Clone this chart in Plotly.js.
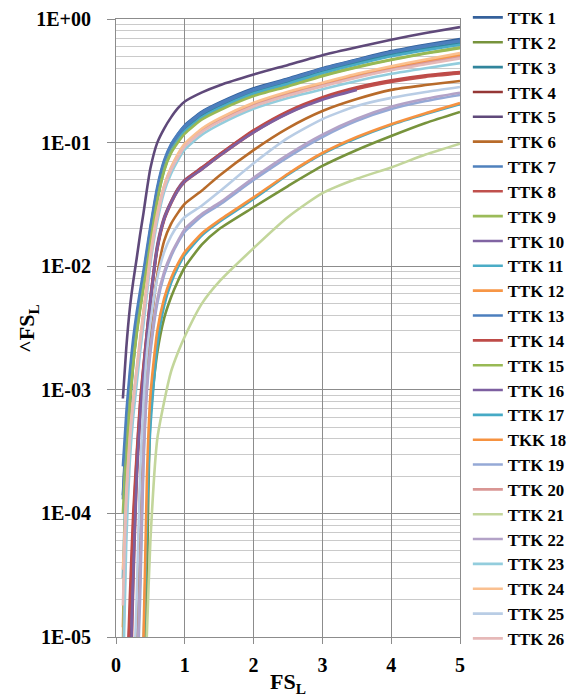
<!DOCTYPE html>
<html>
<head>
<meta charset="utf-8">
<script src="https://cdn.plot.ly/plotly-3.0.1.min.js"></script>
<style>
html,body{margin:0;padding:0;background:#fff;}
#chart{width:587px;height:697px;}
</style>
</head>
<body>
<div id="chart"></div>
<script>
// x values (FS_L)
const xVals = [0.1,0.15,0.2,0.25,0.3,0.35,0.4,0.45,0.5,0.6,0.7,0.8,0.9,1,1.25,1.5,2,2.5,3,3.5,4,4.5,5];

const seriesNames = ["TTK 1","TTK 2","TTK 3","TTK 4","TTK 5","TTK 6","TTK 7","TTK 8","TTK 9","TTK 10",
  "TTK 11","TTK 12","TTK 13","TTK 14","TTK 15","TTK 16","TTK 17","TKK 18","TTK 19","TTK 20",
  "TTK 21","TTK 22","TTK 23","TTK 24","TTK 25","TTK 26"];

const seriesColors = ["#35619B","#77933C","#31859C","#953735","#5F497A","#B86B2A","#4F81BD","#C0504D","#9BBB59","#8064A2",
  "#4BACC6","#F79646","#4C7FBE","#BE4B48","#98B954","#7D5FA0","#46AAC5","#F69240","#95A9D6","#D99694",
  "#C3D69B","#B3A2C7","#93CDDD","#FAC090","#B9CDE5","#E6B9B8"];

// ^FS_L values, one array per series (null = no point)
const ttk1  = [1.4e-4,5e-4,1.2e-3,2.3e-3,3.8e-3,5.8e-3,8.5e-3,1.3e-2,2.0e-2,4.2e-2,7.0e-2,9.5e-2,0.117,0.138,0.178,0.21,0.275,0.33,0.40,0.47,0.55,0.62,0.69];
const ttk2  = [null,null,null,null,null,null,2e-6,3e-5,6e-4,2e-3,3.8e-3,5.6e-3,7.6e-3,9.8e-3,1.5e-2,2.0e-2,3.0e-2,4.45e-2,6.47e-2,8.71e-2,0.113,0.144,0.177];
const ttk3  = [6e-6,2e-4,7e-4,1.6e-3,2.9e-3,4.6e-3,7e-3,1.1e-2,1.7e-2,3.7e-2,6.4e-2,8.8e-2,0.108,0.128,0.166,0.197,0.258,0.31,0.375,0.445,0.515,0.58,0.64];
const ttk4  = [null,null,4e-6,4e-5,2.2e-4,6.5e-4,1.4e-3,2.8e-3,5.2e-3,1.4e-2,2.4e-2,3.3e-2,4.2e-2,4.9e-2,6.2e-2,7.9e-2,0.124,0.177,0.23,0.277,0.315,0.346,0.368];
const ttk5  = [8.5e-4,2.2e-3,4.5e-3,7.5e-3,1.15e-2,1.8e-2,2.7e-2,4.2e-2,6.2e-2,0.1,0.13,0.16,0.19,0.215,0.255,0.29,0.355,0.425,0.51,0.59,0.68,0.77,0.86];
const ttk6  = [null,null,null,3e-6,1.2e-5,1.5e-4,6e-4,1.5e-3,3e-3,8.5e-3,1.6e-2,2.2e-2,2.7e-2,3.2e-2,4.1e-2,5.4e-2,8.7e-2,0.131,0.18,0.225,0.267,0.292,0.315];
const ttk7  = [1.3e-4,4.5e-4,1.1e-3,2.2e-3,3.6e-3,5.6e-3,8.3e-3,1.25e-2,1.9e-2,4.0e-2,6.8e-2,9.2e-2,0.113,0.133,0.172,0.203,0.265,0.32,0.39,0.46,0.535,0.6,0.66];
const ttk8  = [null,null,2e-6,2.5e-5,1.8e-4,5.8e-4,1.3e-3,2.6e-3,5e-3,1.35e-2,2.35e-2,3.2e-2,4.1e-2,4.8e-2,6.1e-2,7.75e-2,0.121,0.173,0.226,0.272,0.31,0.34,0.362];
const ttk9  = [1e-4,3.8e-4,9.5e-4,1.9e-3,3.2e-3,5e-3,7.5e-3,1.1e-2,1.7e-2,3.6e-2,6.2e-2,8.5e-2,0.104,0.122,0.158,0.186,0.243,0.29,0.35,0.41,0.47,0.53,0.59];
const ttk10 = [null,4e-6,1.4e-5,8e-5,2.8e-4,7.5e-4,1.55e-3,3e-3,5.6e-3,1.5e-2,2.5e-2,3.35e-2,4.25e-2,5.0e-2,6.3e-2,8.0e-2,0.124,0.176,0.226,0.27,null,null,null];
const ttk11 = [3e-5,2.5e-4,8e-4,1.7e-3,3e-3,4.7e-3,7e-3,1.05e-2,1.6e-2,3.4e-2,6.0e-2,8.4e-2,0.104,0.123,0.16,0.19,0.25,0.3,0.365,0.43,0.5,0.56,0.62];
const ttk12 = [1.2e-5,1.2e-4,3.8e-4,8e-4,1.4e-3,2.4e-3,4.1e-3,7e-3,1.2e-2,2.6e-2,4.4e-2,6.2e-2,7.9e-2,0.096,0.127,0.153,0.205,0.25,0.297,0.35,0.4,0.455,0.51];
const ttk13 = [2.4e-4,6.5e-4,1.4e-3,2.6e-3,4.2e-3,6.3e-3,9.2e-3,1.4e-2,2.1e-2,4.4e-2,7.2e-2,9.7e-2,0.118,0.137,0.176,0.207,0.27,0.325,0.395,0.465,0.54,0.61,0.67];
const ttk14 = [null,3e-6,2e-5,1e-4,3e-4,8e-4,1.6e-3,3e-3,5.5e-3,1.45e-2,2.45e-2,3.3e-2,4.2e-2,4.95e-2,6.3e-2,8.0e-2,0.126,0.18,0.233,0.28,0.319,0.35,0.372];
const ttk15 = [8e-6,2.2e-4,7.5e-4,1.6e-3,2.8e-3,4.4e-3,6.7e-3,1.0e-2,1.55e-2,3.4e-2,5.9e-2,8.2e-2,0.1,0.118,0.154,0.182,0.238,0.285,0.345,0.405,0.465,0.525,0.58];
const ttk16 = [null,null,3e-6,3e-5,2e-4,6e-4,1.35e-3,2.7e-3,5.1e-3,1.4e-2,2.4e-2,3.25e-2,4.1e-2,4.85e-2,6.1e-2,7.8e-2,0.121,0.172,0.222,0.266,null,null,null];
const ttk17 = [null,null,null,null,null,3e-6,8e-6,1e-4,5e-4,2.3e-3,4.8e-3,7.3e-3,9.8e-3,1.23e-2,1.78e-2,2.28e-2,3.5e-2,5.5e-2,8.1e-2,0.109,0.139,0.17,0.205];
const tkk18 = [null,null,null,null,null,3e-6,1e-5,2e-4,9e-4,3e-3,5.5e-3,8e-3,1.05e-2,1.3e-2,1.85e-2,2.35e-2,3.6e-2,5.6e-2,8.24e-2,0.111,0.141,0.173,0.209];
const ttk19 = [null,null,null,null,3e-6,2e-5,2.5e-4,1e-3,2e-3,5e-3,8.5e-3,1.2e-2,1.55e-2,1.9e-2,2.55e-2,3.13e-2,4.98e-2,7.64e-2,0.111,0.15,0.187,0.217,0.243];
const ttk20 = [6e-6,9e-5,3.3e-4,7e-4,1.3e-3,2.3e-3,3.9e-3,6.7e-3,1.15e-2,2.5e-2,4.3e-2,6.0e-2,7.7e-2,0.094,0.124,0.15,0.2,0.245,0.29,0.34,0.39,0.44,0.49];
const ttk21 = [null,null,null,null,null,null,2e-6,1.1e-5,6e-5,4e-4,8e-4,1.4e-3,2e-3,2.7e-3,5e-3,7.5e-3,1.4e-2,2.5e-2,3.9e-2,5.1e-2,6.3e-2,8.0e-2,0.098];
const ttk22 = [null,null,null,null,4e-6,3e-5,3e-4,1.1e-3,2.2e-3,5.4e-3,9e-3,1.25e-2,1.6e-2,2.0e-2,2.65e-2,3.25e-2,5.2e-2,8.0e-2,0.116,0.156,0.195,0.226,0.253];
const ttk23 = [4e-6,6e-5,2.6e-4,6e-4,1.1e-3,2e-3,3.4e-3,6e-3,1.05e-2,2.3e-2,4.0e-2,5.6e-2,7.2e-2,0.088,0.116,0.14,0.188,0.23,0.27,0.315,0.36,0.4,0.44];
const ttk24 = [3.5e-5,1.5e-4,4.2e-4,8.5e-4,1.5e-3,2.6e-3,4.4e-3,7.5e-3,1.25e-2,2.7e-2,4.5e-2,6.3e-2,8.1e-2,0.098,0.13,0.157,0.21,0.258,0.305,0.36,0.415,0.47,0.53];
const ttk25 = [null,null,null,3e-6,2e-5,2e-4,8e-4,2e-3,3.5e-3,8e-3,1.3e-2,1.75e-2,2.15e-2,2.5e-2,3.1e-2,4.0e-2,6.8e-2,0.109,0.155,0.198,0.23,0.257,0.282];
const ttk26 = [1.8e-5,1.3e-4,3.8e-4,7.8e-4,1.4e-3,2.4e-3,4e-3,6.8e-3,1.15e-2,2.5e-2,4.3e-2,6.0e-2,7.6e-2,0.093,0.122,0.147,0.196,0.24,0.285,0.335,0.385,0.43,0.48];

const seriesValues = [ttk1,ttk2,ttk3,ttk4,ttk5,ttk6,ttk7,ttk8,ttk9,ttk10,ttk11,ttk12,ttk13,ttk14,ttk15,ttk16,ttk17,tkk18,ttk19,ttk20,ttk21,ttk22,ttk23,ttk24,ttk25,ttk26];

const yTickVals = [1e-5,1e-4,1e-3,1e-2,1e-1,1];
const yTickText = ["1E-05","1E-04","1E-03","1E-02","1E-01","1E+00"];
const xTickVals = [0,1,2,3,4,5];

const FONT = "Liberation Serif, Times New Roman, serif";

const traces = seriesNames.map((n,i)=>({
  type:'scatter', mode:'lines', name:n, x:xVals, y:seriesValues[i],
  line:{color:seriesColors[i], width:2.6, shape:'spline', smoothing:0.6},
  connectgaps:false
}));

const layout = {
  width:587, height:697,
  margin:{l:116, r:127, t:19, b:60, autoexpand:false},
  paper_bgcolor:'#ffffff', plot_bgcolor:'#ffffff',
  showlegend:true,
  legend:{xref:'container', yref:'container', x:0.797, xanchor:'left', y:1.006, yanchor:'top', maxheight:700,
    font:{family:FONT, size:16.8, color:'#000', weight:700},
    bgcolor:'rgba(0,0,0,0)', tracegroupgap:0, itemwidth:30},
  xaxis:{range:[0,5], tickvals:xTickVals, ticks:'outside', ticklen:6, tickcolor:'#8c8c8c',
    showgrid:true, gridcolor:'#8c8c8c', gridwidth:1, zeroline:false,
    showline:true, linecolor:'#8c8c8c', mirror:true,
    tickfont:{family:FONT, size:20, color:'#000', weight:700}, ticklabelstandoff:4,
    title:{text:'FS<sub>L</sub>', font:{family:FONT, size:22, color:'#000', weight:700}, standoff:2}},
  yaxis:{type:'log', range:[-5,0], tickvals:yTickVals, ticktext:yTickText,
    ticks:'outside', ticklen:8, tickcolor:'#8c8c8c',
    showgrid:true, gridcolor:'#8c8c8c', gridwidth:1, zeroline:false,
    showline:true, linecolor:'#8c8c8c', mirror:true,
    minor:{dtick:'D1', showgrid:true, gridcolor:'#cacaca', gridwidth:1, ticks:''},
    tickfont:{family:FONT, size:20, color:'#000', weight:700}, ticklabelstandoff:12},
  annotations:[{xref:'paper', yref:'paper', x:-0.256, y:0.5, xanchor:'center', yanchor:'middle',
    text:'^FS<sub>L</sub>', textangle:-90, showarrow:false,
    font:{family:FONT, size:22, color:'#000', weight:700}}]
};

Plotly.newPlot('chart', traces, layout, {displayModeBar:false, staticPlot:true});
</script>
</body>
</html>
